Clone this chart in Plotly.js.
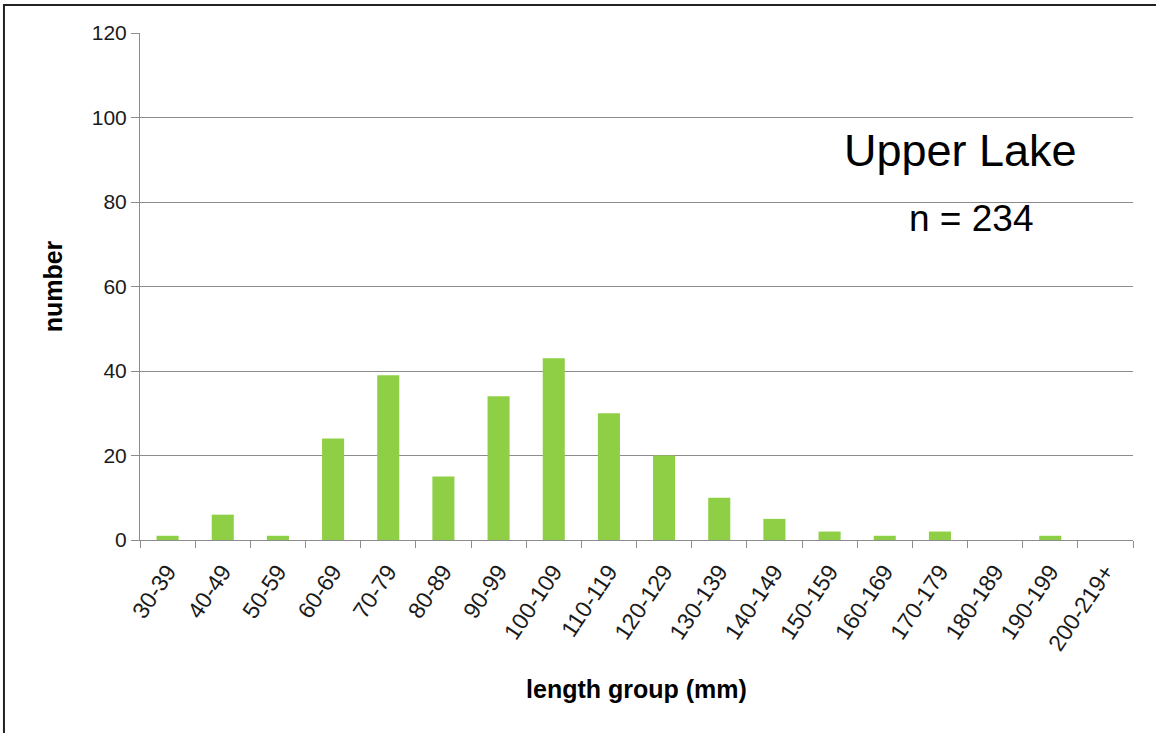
<!DOCTYPE html>
<html>
<head>
<meta charset="utf-8">
<script src="https://cdn.plot.ly/plotly-3.0.1.min.js"></script>
<style>
html, body { margin: 0; padding: 0; background: #fff; }
#chart { width: 1156px; height: 733px; }
</style>
</head>
<body>
<div id="chart"></div>
<script>
const categories = ["30-39","40-49","50-59","60-69","70-79","80-89","90-99","100-109","110-119","120-129","130-139","140-149","150-159","160-169","170-179","180-189","190-199","200-219+"];
const counts = [1, 6, 1, 24, 39, 15, 34, 43, 30, 20, 10, 5, 2, 1, 2, 0, 1, 0];
const yTicks = [0, 20, 40, 60, 80, 100, 120];
const chartLabel = "Upper Lake";
const sampleLabel = "n = 234";

const gridCol = "#8c8c8c";
const font = "Liberation Sans, Arial, sans-serif";

const trace = {
  type: "bar",
  x: categories,
  y: counts,
  marker: { color: "#8fcf45", line: { width: 0 } },
  hoverinfo: "x+y"
};

const layout = {
  width: 1156,
  height: 733,
  margin: { l: 140, r: 23, t: 33, b: 193 },
  paper_bgcolor: "#ffffff",
  plot_bgcolor: "#ffffff",
  showlegend: false,
  bargap: 0.6,
  font: { family: font, color: "#1a1a1a" },
  xaxis: {
    type: "category",
    tickangle: -56,
    tickson: "boundaries",
    ticks: "outside",
    ticklen: 7,
    ticklabelstandoff: 8,
    tickcolor: gridCol,
    showline: true,
    linecolor: gridCol,
    linewidth: 1,
    showgrid: false,
    tickfont: { family: font, size: 23, color: "#1a1a1a" },
    title: { text: "length group (mm)", font: { family: font, size: 25, color: "#000", weight: "bold" }, standoff: 26 },
    automargin: false
  },
  yaxis: {
    range: [0, 120],
    tickvals: yTicks,
    ticks: "outside",
    ticklen: 8,
    tickcolor: gridCol,
    showline: true,
    linecolor: gridCol,
    linewidth: 1,
    showgrid: true,
    gridcolor: gridCol,
    gridwidth: 1,
    zeroline: false,
    tickfont: { family: font, size: 21, color: "#1a1a1a" },
    title: { text: "number", font: { family: font, size: 25, color: "#000", weight: "bold" }, standoff: 22 },
    automargin: false
  },
  annotations: [
    { xref: "paper", yref: "paper", x: 0.826, y: 0.769, text: chartLabel, showarrow: false, font: { family: font, size: 45, color: "#000" }, xanchor: "center", yanchor: "middle" },
    { xref: "paper", yref: "paper", x: 0.837, y: 0.635, text: sampleLabel, showarrow: false, font: { family: font, size: 37, color: "#000" }, xanchor: "center", yanchor: "middle" }
  ],
  shapes: [
    { type: "rect", xref: "paper", yref: "paper", x0: -0.137, x1: 1.6, y0: -1.2, y1: 1.0552, line: { color: "#222", width: 2 }, fillcolor: "rgba(0,0,0,0)", layer: "above" }
  ]
};

Plotly.newPlot("chart", [trace], layout, { displayModeBar: false, staticPlot: true });
</script>
</body>
</html>
